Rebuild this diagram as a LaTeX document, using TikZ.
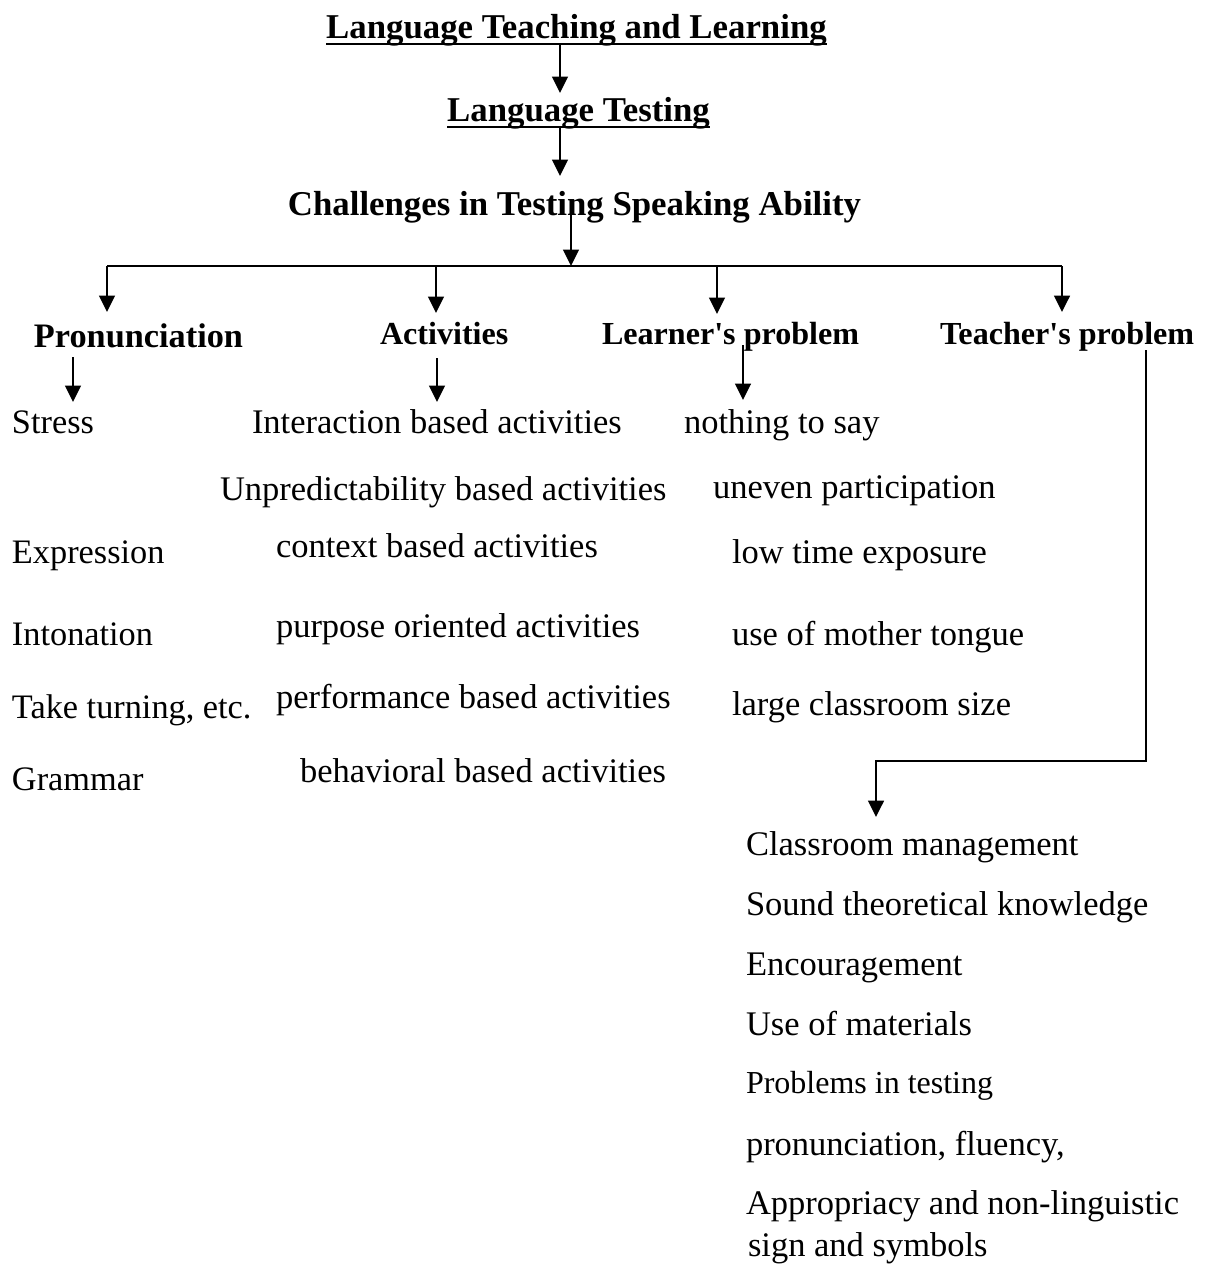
\documentclass[tikz,border=0pt]{standalone}
\usepackage{fontspec}
\setmainfont{Liberation Serif}
\usetikzlibrary{arrows.meta,calc}
\begin{document}
\begin{tikzpicture}[x=1pt,y=-1pt,
  every node/.style={inner sep=0pt, outer sep=0pt},
  txt/.style={anchor=base west, font=\fontsize{34.5}{41}\selectfont},
  txtl/.style={anchor=base west, font=\fontsize{34.3}{41}\selectfont},
  txtb/.style={anchor=base west, font=\fontsize{34.5}{41}\selectfont},
  head/.style={anchor=base west, font=\fontsize{32.1}{38}\selectfont\bfseries},
  ttl/.style={anchor=base, font=\fontsize{34.8}{41}\selectfont\bfseries},
  arr/.style={line width=1.8pt, -{Triangle[length=16.5pt,width=16pt]}},
  ln/.style={line width=1.8pt},
  uline/.style={line width=1.9pt}]
\useasboundingbox (0,0) rectangle (1212,1270);

% titles
\node[ttl] (t1) at (576.5,38) {Language Teaching and Learning};
\node[ttl] (t2) at (578.5,121) {Language Testing};
\node[ttl] (t3) at (574.5,215) {Challenges in Testing Speaking Ability};
\draw[uline] ($(t1.base west)+(0,6)$) -- ($(t1.base east)+(0,6)$);
\draw[uline] ($(t2.base west)+(0,6)$) -- ($(t2.base east)+(0,6)$);

\draw[arr] ($(t1.base)+(-16.5,6)$) -- ($(t2.base)+(-18.5,-28)$);
\draw[arr] ($(t2.base)+(-18.5,6)$) -- ($(t3.base)+(-14.5,-39)$);

% headings
\node[anchor=base west, font=\fontsize{34.3}{41}\selectfont\bfseries] (hp) at (34,347) {Pronunciation};
\node[head] (ha) at (380,344) {Activities};
\node[head] (hl) at (602,344) {Learner\textquotesingle s problem};
\node[head] (ht) at (940,344) {Teacher\textquotesingle s problem};

% bar
\coordinate (bL) at ($(hp.base west)+(73,-81)$);
\coordinate (bR) at ($(ht.base west)+(122,-78)$);
\draw[ln] (bL) -- (bR);
\coordinate (a3) at ($(t3.base)+(-3.5,-5)$);
\draw[arr] (a3) -- (a3 |- bL);

\draw[arr] (bL) -- ($(hp.base west)+(73,-35)$);
\draw[arr] ($(ha.base west)+(56,-78)$) -- ($(ha.base west)+(56,-31)$);
\draw[arr] ($(hl.base west)+(115,-78)$) -- ($(hl.base west)+(115,-30)$);
\draw[arr] (bR) -- ($(ht.base west)+(122,-32)$);

% pronunciation column
\node[txtl] (s1) at (12,433) {Stress};
\node[txtl] (s2) at (12,563) {Expression};
\node[txtl] (s3) at (12,645) {Intonation};
\node[txtl] (s4) at (12,718) {Take turning, etc.};
\node[txtl] (s5) at (12,790) {Grammar};

% activities column
\node[txt] (c1) at (252,433) {Interaction based activities};
\node[txt] (c2) at (220,500) {Unpredictability based activities};
\node[txt] (c3) at (276,557) {context based activities};
\node[txt] (c4) at (276,637) {purpose oriented activities};
\node[txt] (c5) at (276,708) {performance based activities};
\node[txt] (c6) at (300,782) {behavioral based activities};

% learner column
\node[txt] (l1) at (684,433) {nothing to say};
\node[txt] (l2) at (713,498) {uneven participation};
\node[txt] (l3) at (732,563) {low time exposure};
\node[txt] (l4) at (732,645) {use of mother tongue};
\node[txt] (l5) at (732,715) {large classroom size};

% teacher column
\node[txtb] (p1) at (746,855) {Classroom management};
\node[txtb] (p2) at (746,915) {Sound theoretical knowledge};
\node[txtb] (p3) at (746,975) {Encouragement};
\node[txtb] (p4) at (746,1035) {Use of materials};
\node[anchor=base west, font=\fontsize{32}{38}\selectfont] (p5) at (746,1093) {Problems in testing};
\node[txtb] (p6) at (746,1155) {pronunciation, fluency,};
\node[txtb] (p7) at (746,1214) {Appropriacy and non-linguistic};
\node[txtb] (p8) at (748,1256) {sign and symbols};

% sub arrows
\draw[arr] ($(hp.base west)+(39,10)$) -- ($(s1.base west)+(61,-31)$);
\draw[arr] ($(ha.base west)+(57,14)$) -- ($(c1.base west)+(185,-31)$);
\draw[arr] ($(hl.base west)+(141,1)$) -- ($(l1.base west)+(59,-33)$);
\coordinate (tb1) at ($(ht.base west)+(206,6)$);
\coordinate (tb3) at ($(p1.base west)+(130,-38)$);
\draw[arr] (tb1) -- ($(tb1)+(0,411)$) -| (tb3);
\end{tikzpicture}
\end{document}
